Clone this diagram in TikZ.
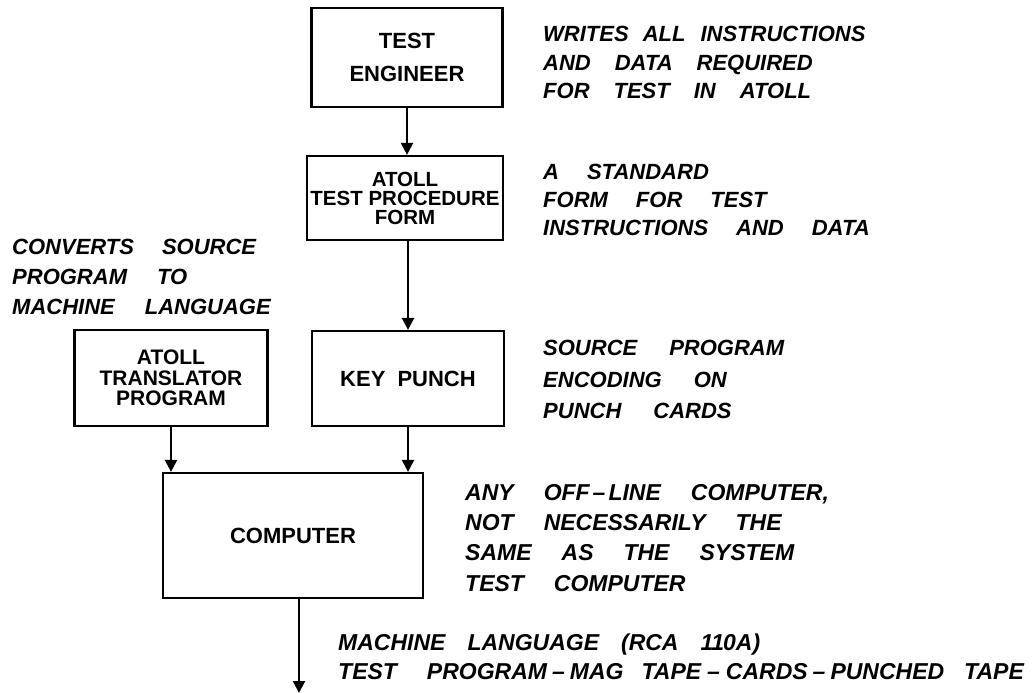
\documentclass[tikz,border=0pt]{standalone}
\usepackage{fontspec}
\setmainfont{Liberation Sans}
\usetikzlibrary{arrows.meta}
\newcommand\notefont[3]{\bfseries\itshape\fontsize{#1}{#2}\selectfont\spaceskip=#3\relax}
\begin{document}
\begin{tikzpicture}[x=1pt,y=-1pt,
  box/.style={draw, line width=2.2pt, inner sep=0pt, align=center},
  bfont/.style 2 args={font=\bfseries\fontsize{#1}{#2}\selectfont},
  arr/.style={line width=2.2pt, -{Triangle[width=12pt,length=12pt]}},
  note/.style={anchor=north west, inner sep=0pt, align=left}
]
\useasboundingbox (0,0) rectangle (1036,693);
% boxes
\node[box, bfont={22}{33}, minimum width=191pt, minimum height=99pt] (te) at (407,57.5) {TEST\\ENGINEER};
\node[box, bfont={20.5}{19}, minimum width=196pt, minimum height=84pt] (tpf) at (405,198) {ATOLL\\TEST PROCEDURE\\FORM};
\node[box, bfont={21}{20.5}, minimum width=193pt, minimum height=96pt] (tr) at (171,378) {ATOLL\\TRANSLATOR\\PROGRAM};
\node[box, bfont={22}{22}, minimum width=192pt, minimum height=95pt] (kp) at (408,378.5) {KEY\hspace{0.55em}PUNCH};
\node[box, bfont={22}{22}, minimum width=260pt, minimum height=125pt] (comp) at (293,535.5) {COMPUTER};
% connectors
\draw[arr] (te.south) -- (te.south |- tpf.north);
\draw[arr] (kp.north |- tpf.south) -- (kp.north);
\draw[arr] (tr.south) -- (tr.south |- comp.north);
\draw[arr] (kp.south) -- (kp.south |- comp.north);
\coordinate (outend) at (299,693);
\draw[arr] (outend |- comp.south) -- (outend);
% annotations
\node[note, font=\notefont{22}{28.5}{24pt}] (n1) at (543,26) {WRITES\hspace{14pt}ALL\hspace{15pt}INSTRUCTIONS\\AND DATA REQUIRED\\FOR TEST IN ATOLL};
\node[note, font=\notefont{22}{28}{28pt}] (n2) at (543,164) {A STANDARD\\FORM FOR TEST\\INSTRUCTIONS AND DATA};
\node[note, font=\notefont{22}{31.5}{32pt}] (n3) at (543,340) {SOURCE PROGRAM\\ENCODING ON\\PUNCH CARDS};
\node[note, font=\notefont{22}{30}{30pt}] (n4) at (12,239) {CONVERTS\hspace{28pt}SOURCE\\PROGRAM TO\\MACHINE LANGUAGE};
\node[note, font=\notefont{23}{30.3}{30pt}] (n5) at (465,484) {ANY OFF\kern3pt–\kern3pt LINE COMPUTER,\\NOT NECESSARILY THE\\SAME AS THE SYSTEM\\TEST COMPUTER};
\node[note, font=\notefont{23}{29}{22pt}] (n6) at (338,634) {MACHINE LANGUAGE (RCA 1\kern-2pt 1\kern-1pt 0A)\\TEST\hspace{30pt}PROGRAM\hspace{5pt}–\hspace{5pt}MAG\hspace{18pt}TAPE\hspace{6pt}–\hspace{6pt}CARDS\hspace{5pt}–\hspace{5pt}PUNCHED\hspace{20pt}TAPE};
\end{tikzpicture}
\end{document}
